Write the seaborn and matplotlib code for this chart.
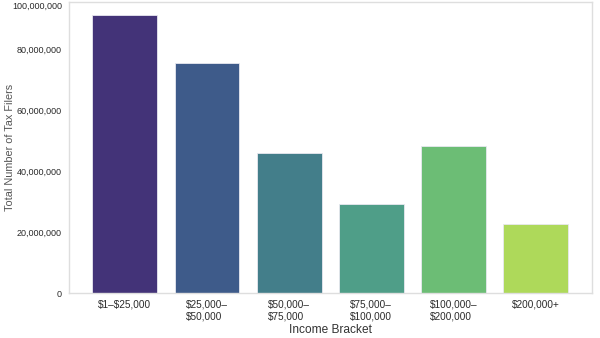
import matplotlib
matplotlib.use("Agg")
import matplotlib.pyplot as plt
import seaborn as sns
import pandas as pd

brackets = ["$1–$25,000", "$25,000–\n$50,000", "$50,000–\n$75,000",
            "$75,000–\n$100,000", "$100,000–\n$200,000", "$200,000+"]
filers = [91.5e6, 75.7e6, 46.0e6, 29.3e6, 48.5e6, 22.7e6]
colors = ["#433378", "#3e5b8a", "#437e8a", "#4f9e88", "#6cbd75", "#aed95a"]
ytick_vals = [0, 20e6, 40e6, 60e6, 80e6]
ytick_labels = ["0", "20,000,000", "40,000,000", "60,000,000", "80,000,000"]
top_label = "100,000,000"
y_max = 95.7e6

df = pd.DataFrame({"bracket": brackets, "filers": filers})

sns.set_style("white")
plt.rcParams["font.family"] = ["Liberation Sans", "DejaVu Sans"]

fig, ax = plt.subplots(figsize=(6.0, 3.38), dpi=100)
fig.subplots_adjust(left=0.115, right=0.987, top=0.994, bottom=0.133)

sns.barplot(data=df, x="bracket", y="filers", hue="bracket", palette=colors,
            legend=False, width=0.79, ax=ax, edgecolor="#e8e8f0", linewidth=0.6,
            saturation=1)

ax.set_xlim(-0.68, 5.69)
ax.set_ylim(0, y_max)
ax.set_yticks(ytick_vals + [y_max])
ax.set_yticklabels(ytick_labels + [top_label])
ax.get_yticklabels()[-1].set_verticalalignment("top")

ax.set_xticks(range(len(brackets)))
ax.set_xticklabels([b.replace("$", r"\$") for b in brackets])
for lab in ax.get_xticklabels():
    lab.set_multialignment("left")

ax.tick_params(axis="both", length=0, colors="#2a2a2a")
ax.tick_params(axis="y", pad=5, labelsize=6.5)
ax.tick_params(axis="x", pad=5, labelsize=7.2)

for s in ax.spines.values():
    s.set_visible(True)
    s.set_color("#dedede")
    s.set_linewidth(1.0)

ax.set_xlabel("Income Bracket", fontsize=8.6, color="#333333", labelpad=2)
ax.set_ylabel("Total Number of Tax Filers", fontsize=7.8, color="#555555")
ax.yaxis.set_label_coords(-0.104, 0.5)

fig.savefig("out.png", dpi=100)
